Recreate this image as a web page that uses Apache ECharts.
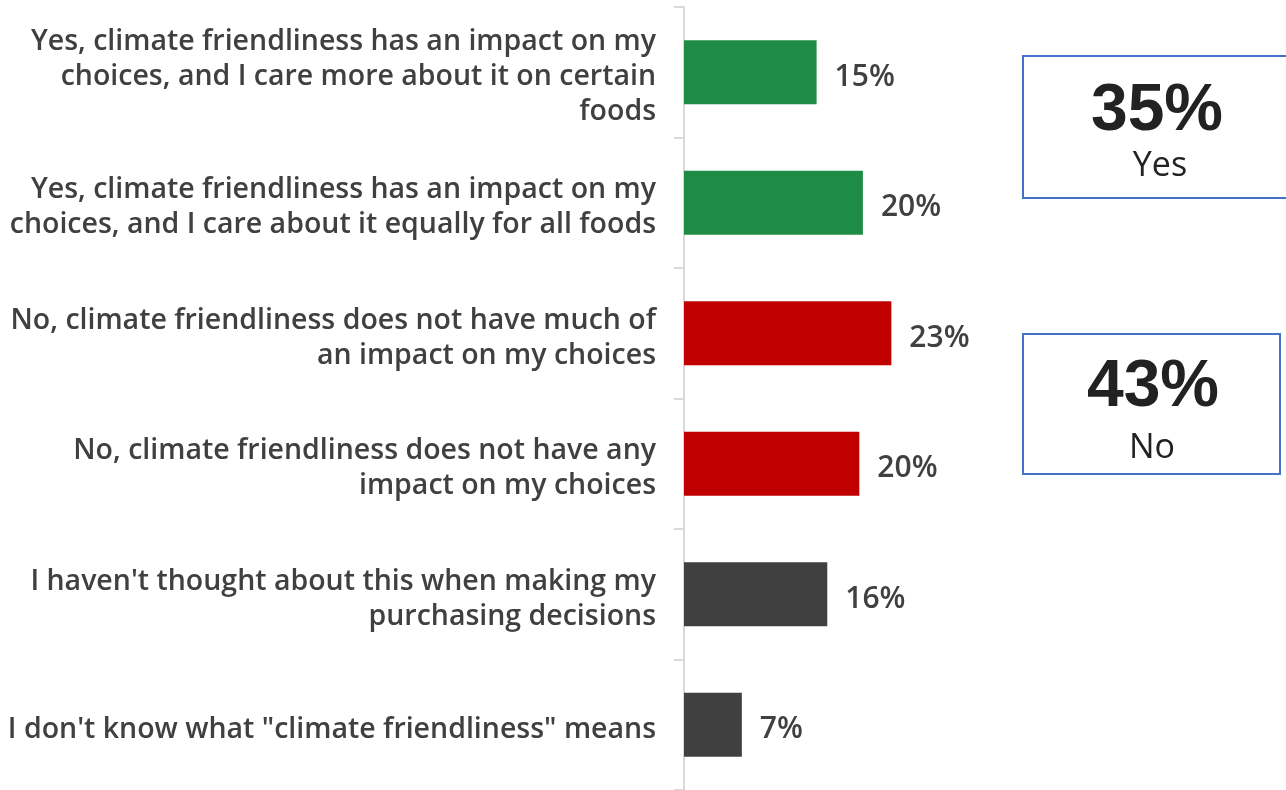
<!DOCTYPE html>
<html><head><meta charset="utf-8">
<script src="https://cdn.jsdelivr.net/npm/echarts@6/dist/echarts.min.js"></script>
<style>html,body{margin:0;padding:0;background:#fff;}#c{width:1286px;height:790px;}</style>
</head><body><div id="c"></div>
<script>
const categories = [
  "Yes, climate friendliness has an impact on my\nchoices, and I care more about it on certain\nfoods",
  "Yes, climate friendliness has an impact on my\nchoices, and I care about it equally for all foods",
  "No, climate friendliness does not have much of\nan impact on my choices",
  "No, climate friendliness does not have any\nimpact on my choices",
  "I haven't thought about this when making my\npurchasing decisions",
  "I don't know what \"climate friendliness\" means"
];
const values = [14.9, 20.1, 23.3, 19.7, 16.1, 6.5];
const labels = ["15%", "20%", "23%", "20%", "16%", "7%"];
const barColors = ["#1e8c45", "#1e8c45", "#c00000", "#c00000", "#404040", "#404040"];
const summaryValues = ["35%", "43%"];
const summaryLabels = ["Yes", "No"];

const FONT = "Open Sans";
const chart = echarts.init(document.getElementById('c'));
chart.setOption({
  animation: false,
  backgroundColor: '#fff',
  grid: { left: 684, top: 7, width: 356, height: 786, containLabel: false },
  xAxis: { type: 'value', min: 0, max: 40, show: false },
  yAxis: {
    type: 'category', inverse: true, data: categories,
    axisLine: { show: true, lineStyle: { color: '#d9d9d9', width: 2 } },
    axisTick: { show: true, length: 10, lineStyle: { color: '#d9d9d9', width: 2 } },
    axisLabel: {
      margin: 28, align: 'right',
      formatter: v => '{s| }\n' + v.split('\n').map(l => '{t|' + l + '}').join('\n'),
      rich: {
        s: { fontSize: 1, lineHeight: 10 },
        t: { color: '#404040', fontFamily: FONT, fontWeight: 600, fontSize: 28.5, lineHeight: 35, align: 'right' }
      }
    }
  },
  series: [{
    type: 'bar', barWidth: 64,
    data: values.map((v, i) => ({ value: v, itemStyle: { color: barColors[i] } })),
    label: { show: true, position: 'right', distance: 18, offset: [0, 5], color: '#404040', fontFamily: FONT, fontWeight: 600, fontSize: 30,
      formatter: p => labels[p.dataIndex] }
  }],
  graphic: [
    { type: 'rect', shape: { x: 1023, y: 56, width: 290, height: 142 }, style: { fill: '#fff', stroke: '#4472c4', lineWidth: 2 } },
    { type: 'text', x: 1157, y: 112, style: { text: summaryValues[0], font: 'bold 66px "Liberation Sans"', fill: '#222', align: 'center', verticalAlign: 'middle' } },
    { type: 'text', x: 1160, y: 166, style: { text: summaryLabels[0], font: '500 34px "Open Sans"', fill: '#222', align: 'center', verticalAlign: 'middle' } },
    { type: 'rect', shape: { x: 1023, y: 334, width: 257, height: 140 }, style: { fill: '#fff', stroke: '#4472c4', lineWidth: 2 } },
    { type: 'text', x: 1153, y: 388, style: { text: summaryValues[1], font: 'bold 66px "Liberation Sans"', fill: '#222', align: 'center', verticalAlign: 'middle' } },
    { type: 'text', x: 1152, y: 448, style: { text: summaryLabels[1], font: '500 34px "Open Sans"', fill: '#222', align: 'center', verticalAlign: 'middle' } }
  ]
});
</script></body></html>
